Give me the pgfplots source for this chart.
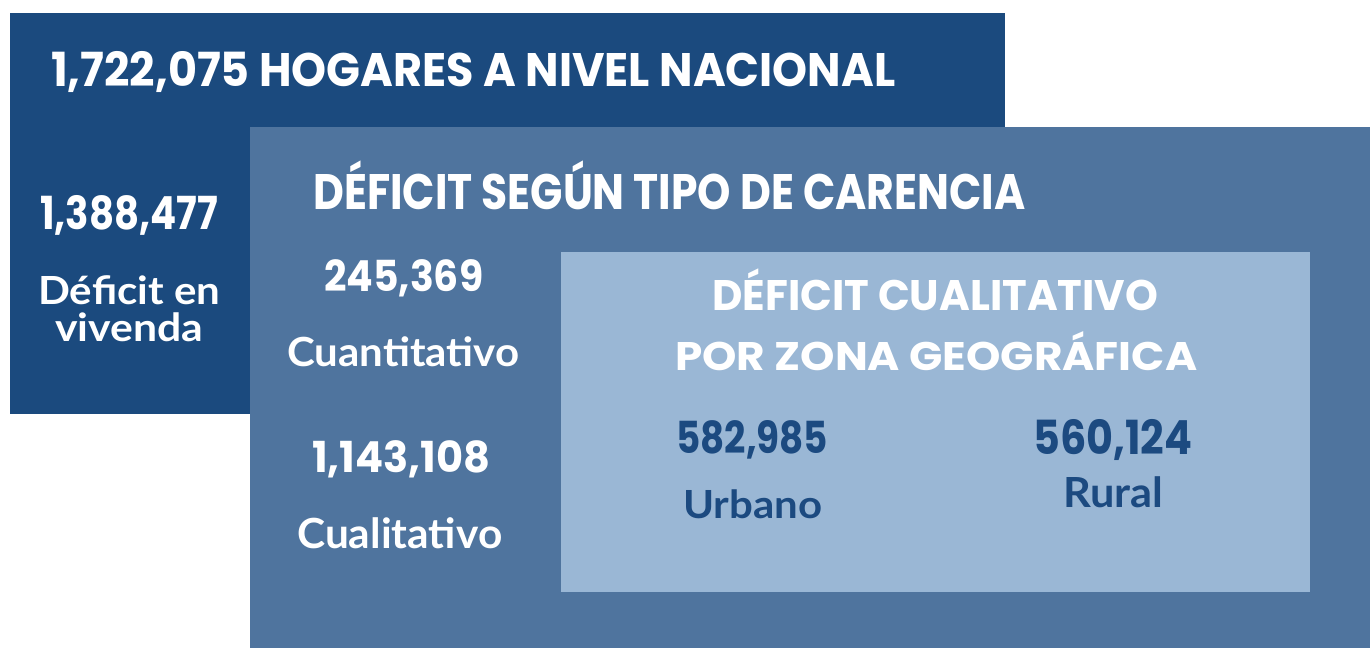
\documentclass[border=0pt]{standalone}
\usepackage{pgfplots}
\pgfplotsset{compat=1.18}
\usepackage{graphicx}
\usepackage{fontspec}
\setmainfont{Lato}
\newfontfamily\disp{Poppins}
\newfontfamily\bodyf{Lato}
\definecolor{darkb}{HTML}{1B4A7E}
\definecolor{midb}{HTML}{4F749E}
\definecolor{lightb}{HTML}{9AB7D5}
\definecolor{txtd}{HTML}{1C4A80}
% x-left, baseline (px from top), width, cap height, font, colour, text
\newcommand\txt[7]{\node[anchor=base west,inner sep=0pt,text=#6] at (axis cs:#1,648-#2) {\resizebox{#3pt}{#4pt}{#5\vphantom{H}\smash{#7}}};}
\begin{document}
\begin{tikzpicture}
\begin{axis}[width=1370pt,height=648pt,scale only axis,
  xmin=0,xmax=1370,ymin=0,ymax=648,axis lines=none,ticks=none,clip=false]
% full canvas (white background) so the picture keeps its size
\addplot[draw=none,fill=white] coordinates {(0,0) (1370,0) (1370,648) (0,648)} -- cycle;
% boxes (pixel coordinates, y measured upward)
\addplot[draw=none,fill=darkb] coordinates {(10,234) (1005,234) (1005,635) (10,635)} -- cycle;
\addplot[draw=none,fill=midb] coordinates {(250,0) (1370,0) (1370,521) (250,521)} -- cycle;
\addplot[draw=none,fill=lightb] coordinates {(561,56) (1310,56) (1310,396) (561,396)} -- cycle;
% texts
\txt{51}{87}{844}{33}{\disp\bfseries}{white}{1,722,075 HOGARES A NIVEL NACIONAL}
\txt{40}{230}{178}{32}{\disp\bfseries}{white}{1,388,477}
\txt{38}{305}{182}{28}{\bodyf\bfseries}{white}{Déficit en}
\txt{55}{342}{148}{28}{\bodyf\bfseries}{white}{vivenda}
\txt{313}{210}{712}{35}{\disp\bfseries}{white}{DÉFICIT SEGÚN TIPO DE CARENCIA}
\txt{324}{292}{159}{30}{\disp\bfseries}{white}{245,369}
\txt{287}{367}{232}{29}{\bodyf\bfseries}{white}{Cuantitativo}
\txt{312}{473}{178}{30}{\disp\bfseries}{white}{1,143,108}
\txt{297}{548}{205}{30}{\bodyf\bfseries}{white}{Cualitativo}
\txt{712}{311}{446}{30}{\disp\bfseries}{white}{DÉFICIT CUALITATIVO}
\txt{675}{371}{522}{28}{\disp\bfseries}{white}{POR ZONA GEOGRÁFICA}
\txt{676}{454}{152}{31}{\disp\bfseries}{txtd}{582,985}
\txt{683}{518}{139}{28}{\bodyf\bfseries}{txtd}{Urbano}
\txt{1033}{455}{159}{33}{\disp\bfseries}{txtd}{560,124}
\txt{1063}{508}{100}{30}{\bodyf\bfseries}{txtd}{Rural}
\end{axis}
\end{tikzpicture}
\end{document}
